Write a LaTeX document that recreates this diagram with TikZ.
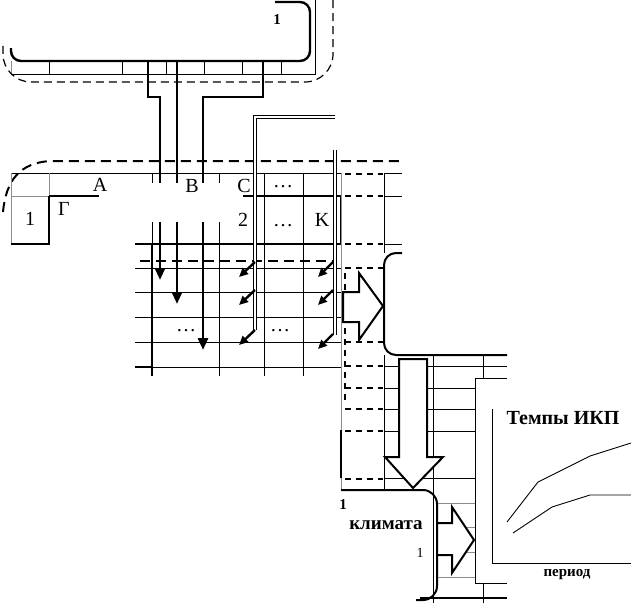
\documentclass[tikz,border=0pt]{standalone}
\usepackage{fontspec}
\setmainfont{Liberation Serif}
\usetikzlibrary{arrows.meta}

\begin{document}
\begin{tikzpicture}[
    x=1pt, y=-1pt,
    heavy/.style={line width=2.4pt},
    bar/.style={line width=2pt},
    thinrule/.style={line width=0.9pt},
    faint/.style={line width=0.8pt, black!45},
    dashrow/.style={line width=1.4pt, dash pattern=on 6pt off 5pt},
    longdash/.style={line width=2pt, dash pattern=on 10pt off 6pt},
    outerdash/.style={line width=1.2pt, dash pattern=on 8pt off 5pt},
    twin/.style={double, double distance=2pt, line width=0.6pt},
    blockarrow/.style={line width=2pt, fill=white, line join=miter},
    flow/.style={line width=2.8pt, -{Triangle[length=12pt,width=10pt]}},
    flowshort/.style={line width=2.4pt, -{Triangle[length=9pt,width=8pt]}},
    lbl/.style={inner sep=0pt, font=\fontsize{20}{24}\selectfont},
    boldlbl/.style={inner sep=0pt, font=\bfseries\fontsize{15}{18}\selectfont}
  ]
  \useasboundingbox (0,0) rectangle (631,603);

  % top block
  \draw[heavy, rounded corners=10pt] (275,2) -- (310,2) -- (310,61) -- (11,61) -- (11,48);
  \draw[thinrule] (315,0) -- (315,74) -- (11,74);
  \draw[faint] (11,61) -- (11,74);
  \foreach \tx in {49,122,166,204,242,281}
    \draw[thinrule] (\tx,61) -- (\tx,74);
  \draw[outerdash, rounded corners=28pt] (333,0) -- (333,82) -- (3,82) -- (3,45);
  \node[boldlbl] (topOne) at (277,20) {1};

  % table grid
  \draw[longdash] (3,212) .. controls (6,180) and (20,163) .. (50,161) -- (402,161);
  \draw[thinrule] (11,173) -- (341,173);
  \draw[faint] (11,173) -- (11,244) (49,173) -- (49,196) (11,196) -- (49,196);
  \draw[bar] (49,196) -- (100,196) (243,196) -- (341,196)
    (11,244) -- (50,244) (49,196) -- (49,244) (341,196) -- (341,244)
    (135,244) -- (341,244);
  \foreach \tx in {152,219,264,303}
    \draw[thinrule] (\tx,173) -- (\tx,376);
  \draw[bar] (152,244) -- (152,376);
  \foreach \ty in {268,292,317,342}
    \draw[thinrule] (135,\ty) -- (341,\ty);
  \draw[bar] (135,367) -- (152,367);
  \draw[thinrule] (152,367) -- (341,367);
  \draw[longdash] (140,261) -- (333,261);

  % dashed column
  \draw[faint] (341,173) -- (341,490);
  \draw[bar] (341,430) -- (341,478);
  \foreach \ty in {174,196,244,268,342,366,388,409,431,479}
    \draw[dashrow] (345,\ty) -- (383,\ty);
  \draw[dashrow] (345,273) -- (345,400);
  \draw[thinrule] (384,173) -- (384,253) (384,355) -- (384,490);
  \foreach \ty in {173,196,244}
    \draw[thinrule] (384,\ty) -- (402,\ty);
  \foreach \ty in {388,409,431,478}
    \draw[thinrule] (384,\ty) -- (475,\ty);
  \draw[thinrule] (384,366) -- (507,366);

  % right grid
  \draw[thinrule] (433,355) -- (433,603);
  \draw[thinrule] (483,355) -- (483,378) (483,583) -- (483,603);
  \foreach \ty in {503,527,552,577}
    \draw[faint] (437,\ty) -- (475,\ty);
  \draw[bar] (420,598) -- (507,598);

  % links from the top block
  \coordinate (srcA) at (148,61);
  \coordinate (srcB) at (177,61);
  \coordinate (srcC) at (263,61);
  \coordinate (tipA) at (160,280);
  \coordinate (tipB) at (177,304);
  \coordinate (tipC) at (203,350);
  \draw[flow] (srcA) -- ++(0,36) -| (tipA);
  \draw[flow] (srcB) -- (tipB);
  \draw[flow] (srcC) -- ++(0,36) -| (tipC);

  % double feeds with diagonal arrows
  \draw[twin] (335,117) -- (255,117) -- (255,330);
  \draw[twin] (335,150) -- (335,335);
  \foreach \k/\ty in {1/262,2/290,3/330} {
    \coordinate (fromL\k) at (255,\ty);
    \coordinate (toL\k) at (239,\ty+15);
    \draw[flowshort] (fromL\k) -- (toL\k);
  }
  \foreach \k/\ty in {1/262,2/290,3/334} {
    \coordinate (fromR\k) at (333,\ty);
    \coordinate (toR\k) at (318,\ty+15);
    \draw[flowshort] (fromR\k) -- (toR\k);
  }

  \fill[white] (99,183) rectangle (241,222);

  % block arrows and boxes
  \draw[bar, rounded corners=12pt] (402,253) -- (384,253) -- (384,355) -- (507,355);
  \draw[blockarrow] (343,292) -- (359,292) -- (359,273) -- (383,306) -- (359,340)
    -- (359,322) -- (343,322) -- cycle;
  \draw[blockarrow] (399,359) -- (427,359) -- (427,457) -- (443,457) -- (413,488)
    -- (385,457) -- (399,457) -- cycle;
  \draw[bar, rounded corners=14pt] (341,490) -- (437,490) -- (437,600) -- (416,600);
  \draw[blockarrow] (437,523) -- (452,523) -- (452,507) -- (474,540) -- (452,573)
    -- (452,555) -- (437,555) -- cycle;

  % chart
  \draw[thinrule] (507,378) -- (475,378) -- (475,583) -- (507,583);
  \draw[thinrule] (492,409) -- (492,563) -- (631,563);
  \draw[thinrule] (507,522) -- (538,482) -- (590,456) -- (631,443);
  \draw[thinrule] (513,533) -- (552,507) -- (590,495) -- (631,495);

  % labels
  \node[lbl] (hdA) at (100,185) {A};
  \node[lbl] (hdB) at (192,186) {B};
  \node[lbl] (hdC) at (244,186) {C};
  \node[lbl] (hdDots) at (283,187) {\dots};
  \node[lbl] (rowOne) at (30,219) {1};
  \node[lbl, anchor=west] (rowG) at (58,209) {Г};
  \node[lbl] (rowTwo) at (243,220) {2};
  \node[lbl] (rowDots) at (283,226) {\dots};
  \node[lbl] (rowK) at (322,220) {K};
  \node[lbl] (dotsL) at (186,331) {\dots};
  \node[lbl] (dotsR) at (280,331) {\dots};
  \node[boldlbl] (boxOne) at (343,505) {1};
  \node[inner sep=0pt, font=\bfseries\fontsize{19}{22}\selectfont] (climate) at (386,525) {климата};
  \node[inner sep=0pt, font=\fontsize{14}{16}\selectfont] (boxOneB) at (420,553) {1};
  \node[inner sep=0pt, font=\bfseries\fontsize{20}{24}\selectfont] (chartTitle) at (563,418) {Темпы ИКП};
  \node[inner sep=0pt, font=\bfseries\fontsize{15}{18}\selectfont] (periodLbl) at (567,575) {период};
\end{tikzpicture}
\end{document}
